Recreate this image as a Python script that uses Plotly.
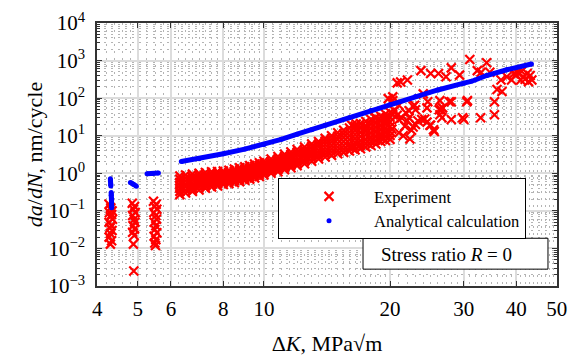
import math
import plotly.graph_objects as go

# ---------------- data ----------------
# Experimental points: low-ΔK clusters
exp_low_dk = [4.27, 4.31, 4.34, 4.28, 4.33, 4.30, 4.35, 4.27, 4.32, 4.29, 4.34, 4.30, 4.27, 4.33, 4.30,
              4.85, 4.91, 4.88, 4.93, 4.86, 4.90, 4.92, 4.87, 4.91, 4.86, 4.90, 4.88, 4.89,
              5.45, 5.53, 5.49, 5.55, 5.46, 5.52, 5.54, 5.47, 5.52, 5.49, 5.55, 5.47, 5.52, 5.49, 5.51]
exp_low_rate = [0.15, 0.12, 0.10, 0.09, 0.08, 0.07, 0.06, 0.05, 0.04, 0.035, 0.03, 0.025, 0.02, 0.016, 0.013,
                0.16, 0.13, 0.11, 0.09, 0.075, 0.06, 0.05, 0.04, 0.033, 0.027, 0.022, 0.013, 0.0025,
                0.18, 0.15, 0.13, 0.11, 0.09, 0.075, 0.06, 0.05, 0.04, 0.032, 0.026, 0.021, 0.017, 0.014, 0.012]

# Experimental points: dense band (ΔK columns, readings from bottom to top edge)
exp_band_dk = [6.3, 6.5, 6.75, 7.0, 7.25, 7.5, 7.75, 8.0, 8.25, 8.5, 8.75, 9.0, 9.25, 9.5, 9.75,
               10.0, 10.4, 10.8, 11.2, 11.6, 12.0, 12.5, 13.0, 13.5, 14.0, 14.5, 15.0, 15.5,
               16.0, 16.5, 17.0, 17.5, 18.0, 18.5, 19.0, 19.5, 20.0]
exp_band_r1 = [0.27, 0.30, 0.33, 0.36, 0.40, 0.43, 0.46, 0.50, 0.53, 0.56, 0.60, 0.65, 0.70, 0.75, 0.82,
               0.90, 1.0, 1.1, 1.25, 1.4, 1.6, 1.8, 2.1, 2.4, 2.7, 3.0, 3.3, 3.6,
               3.9, 4.2, 4.5, 5.0, 5.5, 6.0, 7.0, 7.5, 8.0]
exp_band_r2 = [0.33, 0.36, 0.39, 0.43, 0.47, 0.50, 0.53, 0.58, 0.61, 0.64, 0.69, 0.74, 0.80, 0.86, 0.94,
               1.03, 1.15, 1.28, 1.46, 1.65, 1.88, 2.12, 2.5, 2.86, 3.25, 3.7, 4.06, 4.45,
               4.88, 5.27, 5.73, 6.32, 7.03, 7.67, 8.77, 9.5, 10.2]
exp_band_r3 = [0.40, 0.44, 0.47, 0.51, 0.55, 0.58, 0.62, 0.66, 0.70, 0.74, 0.79, 0.85, 0.92, 0.99, 1.08,
               1.18, 1.32, 1.5, 1.7, 1.95, 2.2, 2.5, 3.0, 3.4, 3.9, 4.5, 5.0, 5.5,
               6.1, 6.6, 7.3, 8.0, 9.0, 9.8, 11, 12, 13]
exp_band_r4 = [0.48, 0.52, 0.56, 0.60, 0.65, 0.68, 0.72, 0.76, 0.81, 0.86, 0.92, 0.98, 1.05, 1.13, 1.24,
               1.35, 1.53, 1.75, 2.0, 2.3, 2.6, 3.0, 3.6, 4.1, 4.8, 5.6, 6.3, 7.0,
               7.8, 8.5, 9.5, 10.6, 11.8, 12.9, 14.5, 15.9, 17.3]
exp_band_r5 = [0.58, 0.62, 0.66, 0.71, 0.76, 0.80, 0.84, 0.88, 0.93, 0.99, 1.06, 1.13, 1.2, 1.3, 1.42,
               1.55, 1.78, 2.05, 2.35, 2.7, 3.1, 3.6, 4.3, 5.0, 5.9, 6.9, 7.9, 9.0,
               10, 11, 12.5, 14, 15.5, 17, 19, 21, 23]
exp_band_r6 = [0.70, 0.75, 0.79, 0.84, 0.89, 0.94, 0.97, 1.0, 1.06, 1.13, 1.22, 1.3, 1.39, 1.51, 1.64,
               1.8, 2.07, 2.4, 2.74, 3.16, 3.65, 4.24, 5.08, 5.9, 7.1, 8.3, 9.7, 11.2,
               12.6, 14.1, 16.2, 18.3, 20.5, 22.6, 25, 28.2, 31]
exp_band_r7 = [0.85, 0.90, 0.95, 1.0, 1.05, 1.1, 1.12, 1.15, 1.2, 1.3, 1.4, 1.5, 1.6, 1.75, 1.9,
               2.1, 2.4, 2.8, 3.2, 3.7, 4.3, 5.0, 6.0, 7.0, 8.5, 10, 12, 14,
               16, 18, 21, 24, 27, 30, 33, 38, 42]

# Experimental points: scattered high-ΔK region
exp_high_dk = [16.2, 16.6, 17.3, 18.4, 19.0, 19.6, 20.5, 16.2, 16.9, 19.8, 20.8,
               21.2, 22.0, 23.7, 25.0, 26.1, 27.2, 28.0, 29.3, 31.0, 32.3, 33.0, 34.0, 34.6,
               36.0, 37.0, 36.8, 38.0, 39.0, 40.3, 41.0, 41.6, 42.5, 42.8, 43.6, 40.0, 42.0, 43.2, 39.5, 41.2,
               20.3, 20.3, 21.0, 24.0, 22.7, 23.0, 22.2, 22.7, 25.0, 24.5, 26.3, 26.2, 26.3, 26.7,
               28.0, 28.0, 30.6, 30.0, 32.9, 35.5, 35.5, 25.4, 25.5, 24.5, 22.9, 22.2, 23.8, 21.8,
               20.3, 21.0, 19.6, 22.3, 24.2, 23.0, 22.5, 21.5, 21.0, 20.2, 20.8, 21.3, 21.7, 22.0,
               23.3, 24.6, 29.8, 30.5, 26.6, 27.7, 24.9, 26.5]
exp_high_rate = [19, 20.5, 14.5, 30, 26, 30, 46, 4.9, 5.5, 97, 255,
                 270, 305, 540, 455, 455, 370, 640, 410, 1070, 540, 490, 880, 490,
                 170, 150, 305, 370, 305, 485, 305, 370, 455, 275, 305, 420, 320, 400, 450, 520,
                 86, 108, 65, 130, 61, 49, 46, 17, 19, 23, 86, 49, 36, 55,
                 80, 27, 86, 27, 30, 80, 36, 14.5, 13, 55, 65, 30, 27, 41,
                 36, 27, 23, 8.2, 28, 20, 14, 10, 12, 15, 35, 30, 18, 25,
                 25, 80, 30, 80, 30, 80, 19, 49]

# Analytical calculation (segments separated by None)
ana_dk = [4.30, 4.30, 4.31, 4.31, None, 4.32, 4.32, 4.33, 4.33, 4.33, 4.33, None,
          4.80, 4.88, 4.96, None, 5.26, 5.42, 5.60, None,
          6.35, 7.0, 8.0, 9.0, 10.0, 11.0, 12.0, 13.0, 14.0, 16.0, 18.0, 20.0, 23.0, 26.0, 30.0, 31.4,
          None, 31.8, 34.0, 38.0, 43.5]
ana_rate = [0.72, 0.62, 0.50, 0.46, None, 0.31, 0.26, 0.21, 0.17, 0.13, 0.12, None,
            0.57, 0.51, 0.455, None, 0.97, 0.99, 1.02, None,
            2.05, 2.45, 3.3, 4.4, 5.8, 8.0, 11, 14.5, 19, 30, 47, 68, 111, 165, 250, 285,
            None, 300, 400, 570, 810]

# Axis ticks
x_ticks = [4, 5, 6, 8, 10, 20, 30, 40, 50]
x_minor = [4.2, 4.4, 4.6, 4.8, 5.25, 5.5, 5.75, 6.25, 6.5, 6.75, 7, 7.25, 7.5, 7.75,
           8.25, 8.5, 8.75, 9, 9.25, 9.5, 9.75, 10.5, 11, 11.5, 12, 12.5, 13, 13.5, 14, 14.5,
           15, 15.5, 16, 16.5, 17, 17.5, 18, 18.5, 19, 19.5, 21, 22, 23, 24, 25, 26, 27, 28, 29,
           31, 32, 33, 34, 35, 36, 37, 38, 39, 41, 42, 43, 44, 45, 46, 47, 48, 49]
y_exponents = [-3, -2, -1, 0, 1, 2, 3, 4]
y_minor_mult = [2, 3, 4, 5, 6, 7, 8, 9]

# ---------------- build ----------------
exp_dk = list(exp_low_dk)
exp_rate = list(exp_low_rate)
for row in (exp_band_r1, exp_band_r2, exp_band_r3, exp_band_r4, exp_band_r5, exp_band_r6, exp_band_r7):
    exp_dk += exp_band_dk
    exp_rate += row
exp_dk += exp_high_dk
exp_rate += exp_high_rate

y_ticks = [10.0 ** e for e in y_exponents]
y_ticktext = ['10<sup>%s</sup>' % (str(e).replace('-', '\u2212')) for e in y_exponents]
y_minor = [m * 10.0 ** e for e in y_exponents[:-1] for m in y_minor_mult]

FONT = 'Liberation Serif'

fig = go.Figure()
fig.add_trace(go.Scatter(
    x=exp_dk, y=exp_rate, mode='markers', name='Experiment',
    marker=dict(symbol='x-thin', size=9, color='red', line=dict(width=2.2, color='red')),
))
fig.add_trace(go.Scatter(
    x=ana_dk, y=ana_rate, mode='lines', showlegend=False, legendgroup='ana',
    line=dict(color='blue', width=5), connectgaps=False, hoverinfo='skip',
))
fig.add_trace(go.Scatter(
    x=ana_dk, y=ana_rate, mode='markers', name='Analytical calculation', legendgroup='ana',
    marker=dict(symbol='circle', size=5, color='blue'),
))

axis_common = dict(
    showline=True, linecolor='#333333', linewidth=1.5, mirror='allticks',
    ticks='inside', ticklen=5, tickcolor='#333333', tickwidth=1,
    showgrid=True, gridcolor='#dcdcdc', gridwidth=1.5, zeroline=False,
    tickfont=dict(family=FONT, size=21, color='black'),
    ticklabeloverflow='allow',
)

fig.update_xaxes(
    type='log', range=[math.log10(4) - 0.0005, math.log10(50) + 0.0005],
    tickmode='array', tickvals=x_ticks, ticktext=[str(v) for v in x_ticks],
    ticklabelstandoff=3,
    minor=dict(tickmode='array', tickvals=x_minor, showgrid=True, griddash='2px,5px',
               gridcolor='#b4b4b4', gridwidth=1, ticks=''),
    title=dict(text='\u0394<i>K</i>, MPa\u221am', font=dict(family=FONT, size=22), standoff=16),
    **axis_common,
)
fig.update_yaxes(
    type='log', range=[-3.0005, 4.0005],
    tickmode='array', tickvals=y_ticks, ticktext=y_ticktext,
    ticklabelstandoff=6,
    minor=dict(tickmode='array', tickvals=y_minor, showgrid=True, griddash='2px,5px',
               gridcolor='#b4b4b4', gridwidth=1, ticks='inside', ticklen=3, tickcolor='#333333'),
    title=dict(text='<i>da</i>/<i>dN</i>, nm/cycle', font=dict(family=FONT, size=22), standoff=0),
    **axis_common,
)

# "Stress ratio" text box
fig.add_shape(type='rect', xref='paper', yref='paper', x0=0.5783, x1=0.9804, y0=0.0641, y1=0.1815,
              line=dict(color='black', width=1), fillcolor='white', layer='above')
fig.add_annotation(
    xref='paper', yref='paper', x=0.7587, y=0.121, xanchor='center', yanchor='middle',
    text='Stress ratio <i>R</i> = 0', showarrow=False,
    font=dict(family=FONT, size=19, color='black'),
)

fig.update_layout(
    width=576, height=361,
    margin=dict(l=97, r=19, t=9, b=71),
    plot_bgcolor='white', paper_bgcolor='white',
    font=dict(family=FONT, size=16, color='black'),
    legend=dict(x=0.3935, y=0.41, xanchor='left', yanchor='top',
                bgcolor='white', bordercolor='black', borderwidth=1,
                font=dict(family=FONT, size=16.5, color='black'),
                indentation=5, itemwidth=80, tracegroupgap=0),
)

fig.write_html('out.html', post_script="document.body.style.margin='0px';",
               config={'displayModeBar': False})
